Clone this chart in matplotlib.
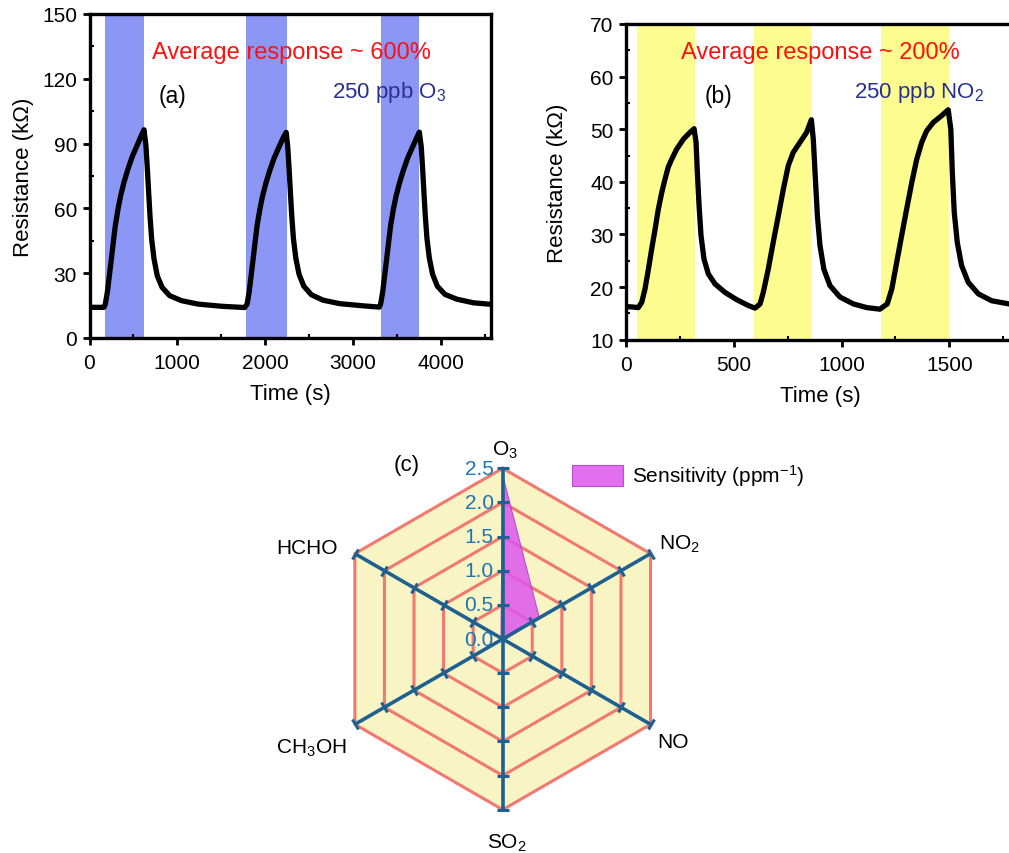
import numpy as np
import matplotlib
matplotlib.use('Agg')
import matplotlib.pyplot as plt
from matplotlib.markers import MarkerStyle
from matplotlib.transforms import Affine2D, offset_copy
from matplotlib.ticker import MultipleLocator

plt.rcParams['font.family'] = ['Liberation Sans', 'DejaVu Sans']
plt.rcParams['mathtext.fontset'] = 'custom'
plt.rcParams['mathtext.rm'] = 'Liberation Sans'
plt.rcParams['mathtext.it'] = 'Liberation Sans:italic'
plt.rcParams['mathtext.bf'] = 'Liberation Sans:bold'
plt.rcParams['mathtext.default'] = 'regular'

# ---------------- data ----------------
o3_time = [0, 165, 180, 203, 226, 249, 271, 294, 325, 355, 393, 438, 488, 541, 590, 621,
           643, 659, 674, 689, 708, 735, 772, 826, 913, 1046, 1236, 1501, 1768,
           1795, 1818, 1841, 1864, 1886, 1909, 1940, 1970, 2008, 2053, 2103, 2156, 2205, 2240,
           2258, 2274, 2289, 2304, 2323, 2350, 2387, 2441, 2528, 2661, 2851, 3116, 3301,
           3316, 3339, 3362, 3385, 3407, 3430, 3461, 3491, 3529, 3574, 3624, 3677, 3726, 3757,
           3779, 3795, 3810, 3825, 3844, 3871, 3908, 3962, 4049, 4182, 4372, 4570]
o3_res = [14.2, 14.2, 15.7, 21.1, 28.8, 36.6, 44.3, 52.0, 59.7, 65.9, 72.1, 78.2, 84.1, 89.0, 93.7, 96.4,
          89.0, 78.2, 67.4, 56.6, 45.8, 36.6, 28.8, 23.5, 19.6, 17.3, 15.7, 14.7, 14.1,
          15.7, 21.1, 28.8, 36.6, 44.3, 52.0, 59.5, 65.5, 71.5, 77.5, 83.3, 88.2, 92.6, 95.2,
          88.5, 78.0, 67.0, 56.5, 46.0, 37.0, 29.5, 24.0, 20.0, 17.5, 15.9, 14.9, 14.3,
          15.7, 21.1, 28.8, 36.6, 44.3, 52.0, 59.5, 65.5, 71.5, 77.5, 83.3, 88.2, 92.6, 95.3,
          88.5, 78.0, 67.0, 56.5, 46.0, 37.0, 29.5, 24.0, 20.2, 18.0, 16.3, 15.6]
o3_bands = [(177, 624), (1779, 2246), (3317, 3756)]

no2_time = [0, 34, 57, 73, 88, 104, 119, 135, 150, 166, 181, 196, 212, 235, 266, 297, 316,
            325, 331, 339, 348, 362, 382, 413, 459, 514, 567, 599,
            622, 637, 660, 683, 707, 730, 753, 776, 807, 838, 860,
            869, 877, 888, 900, 918, 946, 993, 1055, 1117, 1178,
            1212, 1233, 1256, 1279, 1302, 1326, 1349, 1372, 1395, 1426, 1465, 1495,
            1507, 1514, 1523, 1537, 1557, 1588, 1635, 1697, 1777, 1800]
no2_res = [16.3, 16.2, 16.1, 17.1, 19.6, 23.4, 27.2, 31.0, 34.8, 38.0, 40.5, 42.8, 44.3, 46.2, 48.1, 49.4, 50.1,
           47.5, 41.8, 35.5, 29.8, 25.3, 22.5, 20.6, 19.0, 17.6, 16.5, 16.0,
           16.8, 19.0, 23.4, 28.5, 33.6, 38.6, 43.1, 45.6, 47.5, 49.4, 51.8,
           48.1, 41.8, 33.6, 27.9, 23.4, 20.3, 18.1, 16.8, 16.1, 15.8,
           16.8, 19.6, 24.7, 29.8, 34.8, 39.9, 44.3, 47.5, 49.7, 51.3, 52.6, 53.7,
           50.0, 41.8, 34.2, 28.5, 24.1, 20.9, 18.7, 17.4, 16.8, 16.7]
no2_bands = [(50, 322), (592, 858), (1182, 1499)]

gases = ['O$_3$', 'NO$_2$', 'NO', 'SO$_2$', 'CH$_3$OH', 'HCHO']
sensitivity = [2.4, 0.62, 0.03, 0.02, 0.02, 0.03]
rings = [0.5, 1.0, 1.5, 2.0, 2.5]

# ---------------- layout helpers ----------------
W, H = 1009, 854
def fx(px):
    return px / W
def fy(py):
    return 1 - py / H

FT = 15    # tick labels
FL = 16    # axis labels
fig = plt.figure(figsize=(W / 100, H / 100), dpi=100)


def style_axes(ax):
    for s in ax.spines.values():
        s.set_linewidth(2.4)
    ax.tick_params(which='major', direction='out', length=5, width=2,
                   labelsize=FT)
    ax.tick_params(axis='x', which='major', pad=6)
    ax.tick_params(axis='y', which='major', pad=4)
    ax.tick_params(which='minor', direction='in', length=3, width=1.5)


# ---------------- panel (a) ----------------
axa = fig.add_axes([fx(89.5), fy(339), fx(490.7) - fx(89.5), (339 - 15) / H])
for a, b in o3_bands:
    axa.axvspan(a, b, color='#8c96f4', lw=0, zorder=0)
axa.plot(o3_time, o3_res, color='black', lw=3.8, solid_capstyle='round',
         solid_joinstyle='round', zorder=2)
axa.set_xlim(0, 4570)
axa.set_ylim(0, 150)
axa.set_xticks([0, 1000, 2000, 3000, 4000])
axa.set_yticks([0, 30, 60, 90, 120, 150])
axa.xaxis.set_minor_locator(MultipleLocator(500))
axa.yaxis.set_minor_locator(MultipleLocator(15))
style_axes(axa)
axa.set_xlabel('Time (s)', fontsize=FL, labelpad=8)
axa.set_ylabel('Resistance (k\u03a9)', fontsize=FL, labelpad=6)

# ---------------- panel (b) ----------------
axb = fig.add_axes([fx(626), fy(340.7), 1800 * 0.21553 / W, (340.7 - 25) / H])
for a, b in no2_bands:
    axb.axvspan(a, b, color='#fdfc8e', lw=0, zorder=0)
axb.plot(no2_time, no2_res, color='black', lw=3.8, solid_capstyle='round',
         solid_joinstyle='round', zorder=2)
axb.set_xlim(0, 1800)
axb.set_ylim(10, 70)
axb.set_xticks([0, 500, 1000, 1500])
axb.set_yticks([10, 20, 30, 40, 50, 60, 70])
axb.xaxis.set_minor_locator(MultipleLocator(250))
axb.yaxis.set_minor_locator(MultipleLocator(5))
style_axes(axb)
axb.set_xlabel('Time (s)', fontsize=FL, labelpad=8)
axb.set_ylabel('Resistance (k\u03a9)', fontsize=FL, labelpad=16)

# annotations
red = '#ff1010'
navy = '#28308f'
fig.text(fx(291), fy(53), 'Average response ~ 600%', color=red, fontsize=17,
         ha='center', va='center')
fig.text(fx(172.5), fy(96), '(a)', fontsize=16.5, ha='center', va='center')
fig.text(fx(389), fy(98), '250 ppb O$_3$', color=navy, fontsize=16,
         ha='center', va='baseline')
fig.text(fx(820), fy(53), 'Average response ~ 200%', color=red, fontsize=17,
         ha='center', va='center')
fig.text(fx(719), fy(97), '(b)', fontsize=16.5, ha='center', va='center')
fig.text(fx(919), fy(98), '250 ppb NO$_2$', color=navy, fontsize=16,
         ha='center', va='baseline')

# ---------------- panel (c) radar ----------------
cx, cy, R = 502.7, 640, 170.7
axc = fig.add_axes([fx(cx - R), fy(cy + R), 2 * R / W, 2 * R / H],
                   projection='polar')
axc.set_theta_zero_location('N')
axc.set_theta_direction(-1)
axc.set_ylim(0, 2.5)
axc.grid(False)
axc.set_xticks([])
axc.set_yticks([])
axc.spines['polar'].set_visible(False)
axc.patch.set_visible(False)

n = len(gases)
angles = np.linspace(0, 2 * np.pi, n, endpoint=False)
closed = np.append(angles, angles[0])

ring_col = '#f27870'
spoke_col = '#1e6190'
axc.fill(closed, [rings[-1]] * (n + 1), color='#f8f4c4', lw=0, zorder=1,
         clip_on=False)
for r in rings:
    axc.plot(closed, [r] * (n + 1), color=ring_col, lw=2.2, zorder=2,
             clip_on=False)

poly = axc.fill(angles, sensitivity, facecolor='#dd55ee', edgecolor='#b040c8',
                lw=0.8, alpha=0.85, zorder=3, clip_on=False)[0]

for th in angles:
    axc.plot([th, th], [0, rings[-1]], color=spoke_col, lw=2.6, zorder=4,
             clip_on=False, solid_capstyle='butt')
    mk = MarkerStyle('_', transform=Affine2D().rotate_deg(-np.degrees(th)))
    axc.plot([th] * len(rings), rings, ls='none', marker=mk, ms=9, mew=2.2,
             color=spoke_col, zorder=4, clip_on=False)

tick_tr = offset_copy(axc.transData, fig=fig, x=-9, y=0, units='dots')
for r in [0.0] + rings:
    axc.text(0, r, f'{r:.1f}', transform=tick_tr, ha='right', va='center',
             color='#1b74b8', fontsize=FT, zorder=5)

# category labels, anchored to spoke ends with pixel offsets
label_offsets = [(2, 13.3, 'center'), (8.3, 4.7, 'left'), (6.3, -22.7, 'left'),
                 (4, -37.6, 'center'), (-8, -28.7, 'right'), (-16.7, 1, 'right')]
for th, g, (dx, dy, ha) in zip(angles, gases, label_offsets):
    axc.annotate(g, xy=(th, rings[-1]), xytext=(dx, dy),
                 textcoords='offset pixels', ha=ha, va='baseline',
                 fontsize=FT, annotation_clip=False)

fig.text(fx(407), fy(466), '(c)', fontsize=16, ha='center', va='center')

fig.legend([poly], ['Sensitivity (ppm$^{-1}$)'], loc='center left',
           bbox_to_anchor=(fx(571.7), fy(476.5)), frameon=False,
           borderpad=0, borderaxespad=0, handlelength=2.45, handleheight=1.2,
           handletextpad=0.45, fontsize=FT)

fig.savefig('out.png', dpi=100)
